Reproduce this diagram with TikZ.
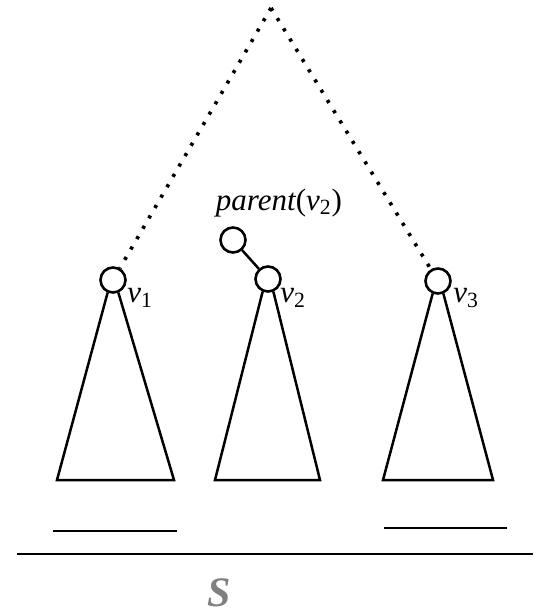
\documentclass[tikz,border=0pt]{standalone}
\usepackage{fontspec}
\setmainfont{Liberation Serif}
\tikzset{
    vert/.style={draw, circle, line width=1.3pt, minimum size=12.5pt, inner sep=0pt, fill=white},
    lbl/.style={font=\fontsize{15.5}{18}\selectfont\itshape, inner sep=0pt},
    thick line/.style={line width=1.25pt},
    dots/.style={line width=1.8pt, dash pattern=on 1.6pt off 4.4pt},
}
\begin{document}
\begin{tikzpicture}[x=0.5pt, y=-0.5pt]
    \useasboundingbox (0,0) rectangle (539,613);
    \coordinate (top) at (271,8);
    % the three subtree roots
    \node[vert] (v1) at (113,280) {};
    \node[vert] (v2) at (268,279) {};
    \node[vert] (v3) at (438,281) {};
    \node[vert] (par) at (233,240) {};
    \draw[thick line] (par) -- (v2);
    \draw[dots] (top) -- (v1);
    \draw[dots] (top) -- (v3);
    % subtrees
    \draw[thick line] (v1.-113) -- (57,480) -- (174,480) -- (v1.-67);
    \draw[thick line] (v2.-113) -- (215,480) -- (320,480) -- (v2.-67);
    \draw[thick line] (v3.-113) -- (383,480) -- (493,480) -- (v3.-67);
    \node[lbl, anchor=west] (l1) at (127,298) {v\textsubscript{\upshape 1}};
    \node[lbl, anchor=west] (l2) at (280,298) {v\textsubscript{\upshape 2}};
    \node[lbl, anchor=west] (l3) at (453,298) {v\textsubscript{\upshape 3}};
    \node[lbl] (lp) at (279,203) {parent\upshape(\itshape v\textsubscript{\upshape 2}\upshape)};
    % intervals
    \draw[thick line] (53,531) -- (177,531);
    \draw[thick line] (384,528) -- (507,528);
    \draw[thick line] (17,554) -- (533,554);
    \node[font=\fontsize{21}{24}\selectfont\bfseries\itshape, text=gray, inner sep=0pt] (s) at (219,593) {S};
\end{tikzpicture}
\end{document}
